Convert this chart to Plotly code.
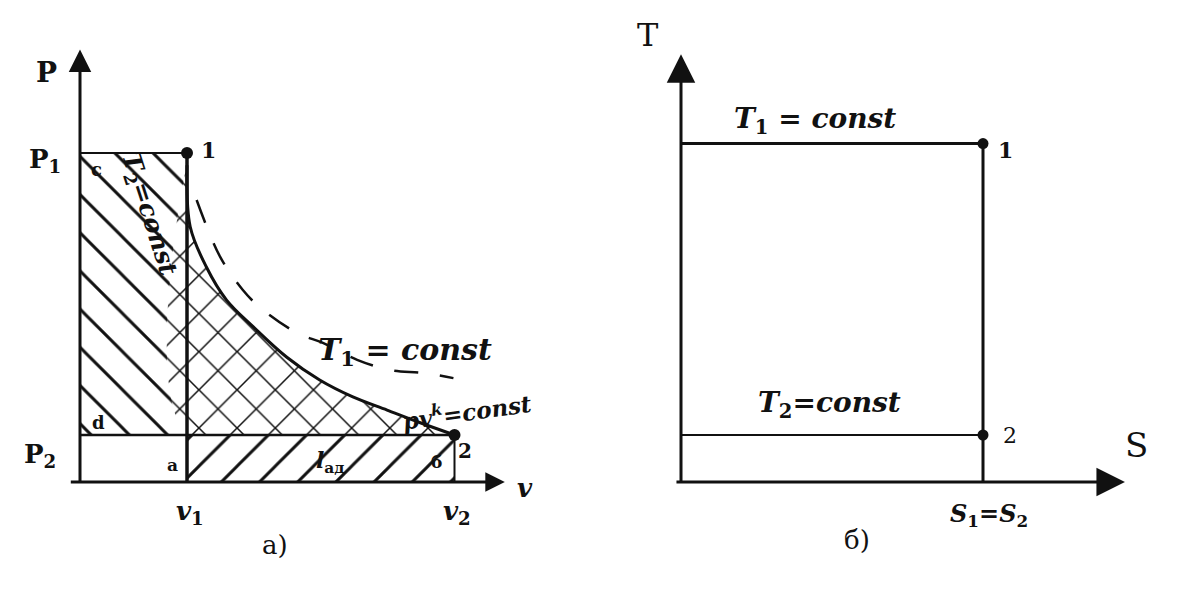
import plotly.graph_objects as go

# ---- data (arbitrary units) ----
v1, v2 = 1.0, 3.5          # specific volumes
p1, p2 = 7.0, 1.0          # pressures
adiabat_v = [1.0, 1.03, 1.18, 1.37, 1.62, 1.93, 2.24, 2.55, 2.87, 3.18, 3.5]
adiabat_p = [6.74, 5.43, 4.58, 3.87, 3.30, 2.66, 2.17, 1.81, 1.53, 1.26, 1.0]
isotherm_v = [1.09, 1.31, 1.52, 1.68, 2.03, 2.27, 2.59, 2.90, 3.21, 3.49]
isotherm_p = [6.0, 4.79, 4.09, 3.72, 3.17, 2.96, 2.60, 2.38, 2.32, 2.21]
p_axis_top, v_axis_end = 9.2, 3.97

S1 = 1.0                   # S1 = S2
T1, T2 = 7.2, 1.0
T_axis_top, S_axis_end = 9.1, 1.47

INK = "#111"
FONT = "DejaVu Serif"

fig = go.Figure()

# ---- left panel: p-v ----
fig.add_trace(go.Scatter(
    x=[0, v1, v1, 0, 0], y=[p2, p2, p1, p1, p2], xaxis="x", yaxis="y",
    mode="lines", line=dict(width=0), fill="toself", fillcolor="rgba(0,0,0,0)",
    fillpattern=dict(shape="\\", size=27, solidity=0.11, fgcolor=INK, bgcolor="white", fillmode="replace"),
    hoverinfo="skip", showlegend=False))
fig.add_trace(go.Scatter(
    x=[v1] + adiabat_v + [v1], y=[p2] + adiabat_p + [p2], xaxis="x", yaxis="y",
    mode="lines", line=dict(width=0, shape="spline"), fill="toself", fillcolor="rgba(0,0,0,0)",
    fillpattern=dict(shape="x", size=27, solidity=0.11, fgcolor=INK, bgcolor="white", fillmode="replace"),
    hoverinfo="skip", showlegend=False))
fig.add_trace(go.Scatter(
    x=[v1, v2, v2, v1, v1], y=[0, 0, p2, p2, 0], xaxis="x", yaxis="y",
    mode="lines", line=dict(width=0), fill="toself", fillcolor="rgba(0,0,0,0)",
    fillpattern=dict(shape="/", size=27, solidity=0.11, fgcolor=INK, bgcolor="white", fillmode="replace"),
    hoverinfo="skip", showlegend=False))

def seg(xs, ys, w, xa="x", ya="y", dash=None, shape="linear"):
    fig.add_trace(go.Scatter(x=xs, y=ys, xaxis=xa, yaxis=ya, mode="lines",
                             line=dict(color=INK, width=w, dash=dash, shape=shape),
                             hoverinfo="skip", showlegend=False))

seg([0, v2], [p2, p2], 2.5)
seg([0, v1], [p1, p1], 2)
seg([v1, v1], [0, p1], 3.5)
seg([v2, v2], [0, p2], 2)
seg(adiabat_v, adiabat_p, 3, shape="spline")
seg(isotherm_v, isotherm_p, 2.5, dash="24px,22px", shape="spline")
fig.add_trace(go.Scatter(x=[v1, v2], y=[p1, p2], xaxis="x", yaxis="y", mode="markers",
                         marker=dict(color=INK, size=12), hoverinfo="skip", showlegend=False))

# ---- right panel: T-s ----
seg([0, S1], [T1, T1], 3, "x2", "y2")
seg([S1, S1], [0, T1], 3, "x2", "y2")
seg([0, S1], [T2, T2], 2, "x2", "y2")
fig.add_trace(go.Scatter(x=[S1, S1], y=[T1, T2], xaxis="x2", yaxis="y2", mode="markers",
                         marker=dict(color=INK, size=11), hoverinfo="skip", showlegend=False))

# ---- axes with arrows ----
def arrow(x0, y0, x1, y1, xa, ya, size=1.6):
    fig.add_annotation(x=x1, y=y1, ax=x0, ay=y0, xref=xa, yref=ya, axref=xa, ayref=ya,
                       text="", showarrow=True, arrowhead=2, arrowsize=size,
                       arrowwidth=3, arrowcolor=INK, standoff=0, startstandoff=0)

arrow(0, -0.05, 0, p_axis_top, "x", "y", 1.5)
arrow(-0.1, 0, v_axis_end, 0, "x", "y", 1.3)
arrow(0, -0.05, 0, T_axis_top, "x2", "y2", 1.9)
arrow(-0.02, 0, S_axis_end, 0, "x2", "y2", 1.9)

# ---- labels ----
def label(txt, x, y, xa, ya, size=22, angle=0, bold=True):
    t = "<b>" + txt + "</b>" if bold else txt
    fig.add_annotation(x=x, y=y, xref=xa, yref=ya, text=t, showarrow=False,
                       textangle=angle, font=dict(family=FONT, size=size, color=INK))

label("P", -0.31, 8.72, "x", "y", 28)
label("P<sub>1</sub>", -0.33, 6.85, "x", "y", 26)
label("P<sub>2</sub>", -0.37, 0.57, "x", "y", 26)
label("c", 0.15, 6.64, "x", "y", 18)
label("d", 0.17, 1.26, "x", "y", 18)
label("a", 0.86, 0.36, "x", "y", 17)
label("б", 3.33, 0.43, "x", "y", 17)
label("1", 1.2, 7.06, "x", "y", 22)
label("2", 3.6, 0.66, "x", "y", 20)
label("<i>v</i><sub>1</sub>", 1.03, -0.64, "x", "y", 26)
label("<i>v</i><sub>2</sub>", 3.52, -0.64, "x", "y", 26)
label("<i>v</i>", 4.16, -0.13, "x", "y", 26)
label("<i>T</i><sub>1</sub> = <i>const</i>", 3.04, 2.77, "x", "y", 30)
label("<i>pv<sup>k</sup>=const</i>", 3.62, 1.52, "x", "y", 23, -8)
label("<i>T</i><sub>2</sub>=<i>const</i>", 0.64, 5.68, "x", "y", 25, 72)
label("<i>l</i><sub>ад</sub>", 2.34, 0.43, "x", "y", 22)
label("а)", 1.82, -1.34, "x", "y", 26, bold=False)

label("T", -0.109, 9.51, "x2", "y2", 32, bold=False)
label("<i>T</i><sub>1</sub> = <i>const</i>", 0.444, 7.70, "x2", "y2", 28)
label("<i>T</i><sub>2</sub>=<i>const</i>", 0.493, 1.64, "x2", "y2", 28)
label("1", 1.073, 7.06, "x2", "y2", 22)
label("2", 1.089, 1.0, "x2", "y2", 22, bold=False)
label("S", 1.507, 0.79, "x2", "y2", 34, bold=False)
label("<i>S</i><sub>1</sub>=<i>S</i><sub>2</sub>", 1.02, -0.70, "x2", "y2", 24)
label("б)", 0.583, -1.23, "x2", "y2", 26, bold=False)

# page body has an 8 px margin: figure 1172x606, origins at page px (80,482) and (681,482)
W, H = 1172, 606
half = W / 2
ax_common = dict(visible=False, fixedrange=True)
fig.update_layout(
    width=W, height=H, margin=dict(l=0, r=0, t=0, b=0),
    paper_bgcolor="white", plot_bgcolor="white", showlegend=False,
    xaxis=dict(domain=[0, 0.5], range=[-72 / 107, (half - 72) / 107], **ax_common),
    yaxis=dict(domain=[0, 1], range=[-(H - 474) / 47, 474 / 47], **ax_common),
    xaxis2=dict(domain=[0.5, 1], range=[(half - 673) / 302, (W - 673) / 302], anchor="y2", **ax_common),
    yaxis2=dict(domain=[0, 1], range=[-(H - 474) / 47, 474 / 47], anchor="x2", **ax_common),
)

fig.write_html("out.html")
